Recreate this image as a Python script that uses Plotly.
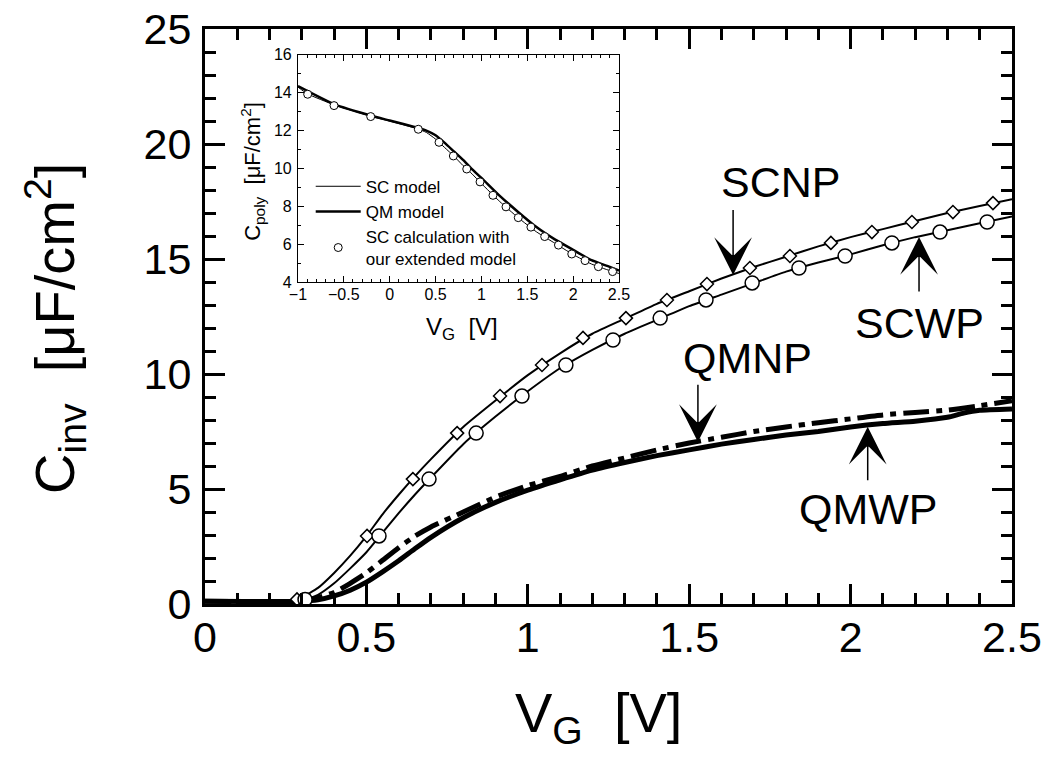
import plotly.graph_objects as go

# ---------------- main plot data ----------------
scnp_x = [0, 0.25, 0.3, 0.35, 0.4, 0.45, 0.5, 0.55, 0.6, 0.65, 0.7, 0.8, 0.9, 1.0, 1.1, 1.2, 1.3, 1.4, 1.5, 1.6, 1.7, 1.8, 1.9, 2.0, 2.1, 2.2, 2.3, 2.4, 2.5]
scnp_y = [0.12, 0.12, 0.3, 0.7, 1.35, 2.1, 2.95, 3.9, 4.75, 5.55, 6.3, 7.7, 8.85, 9.95, 10.9, 11.75, 12.4, 13.05, 13.6, 14.15, 14.65, 15.1, 15.55, 15.95, 16.3, 16.65, 17.0, 17.3, 17.6]
scnp_mx = [0.285, 0.502, 0.644, 0.781, 0.914, 1.044, 1.171, 1.304, 1.431, 1.555, 1.688, 1.812, 1.939, 2.066, 2.19, 2.317, 2.441]
scnp_my = [0.2, 2.96, 5.43, 7.43, 9.04, 10.39, 11.57, 12.43, 13.22, 13.91, 14.61, 15.13, 15.7, 16.17, 16.61, 17.04, 17.43]

scwp_x = [0, 0.3, 0.35, 0.4, 0.45, 0.5, 0.55, 0.6, 0.65, 0.7, 0.8, 0.9, 1.0, 1.1, 1.2, 1.3, 1.4, 1.5, 1.6, 1.7, 1.8, 1.9, 2.0, 2.1, 2.2, 2.3, 2.4, 2.5]
scwp_y = [0.12, 0.15, 0.4, 0.9, 1.55, 2.25, 3.1, 3.95, 4.75, 5.5, 6.95, 8.15, 9.25, 10.25, 11.05, 11.75, 12.35, 12.95, 13.45, 13.95, 14.45, 14.85, 15.2, 15.6, 15.95, 16.25, 16.55, 16.85]
scwp_mx = [0.31, 0.539, 0.694, 0.84, 0.982, 1.118, 1.264, 1.41, 1.552, 1.695, 1.84, 1.983, 2.128, 2.277, 2.423]
scwp_my = [0.2, 2.96, 5.43, 7.43, 9.04, 10.39, 11.48, 12.43, 13.22, 13.96, 14.61, 15.13, 15.7, 16.17, 16.61]

qmnp_x = [0, 0.28, 0.33, 0.4, 0.45, 0.5, 0.55, 0.6, 0.65, 0.7, 0.8, 0.9, 1.0, 1.1, 1.2, 1.3, 1.4, 1.5, 1.6, 1.7, 1.8, 1.9, 2.0, 2.1, 2.2, 2.3, 2.4, 2.5]
qmnp_y = [0.12, 0.12, 0.2, 0.5, 0.9, 1.35, 1.9, 2.45, 2.95, 3.35, 4.0, 4.65, 5.15, 5.55, 6.0, 6.35, 6.7, 7.0, 7.25, 7.5, 7.7, 7.88, 8.05, 8.22, 8.33, 8.43, 8.62, 8.84]

qmwp_x = [0, 0.3, 0.35, 0.4, 0.45, 0.5, 0.55, 0.6, 0.65, 0.7, 0.8, 0.9, 1.0, 1.1, 1.2, 1.3, 1.4, 1.5, 1.6, 1.7, 1.8, 1.9, 2.0, 2.1, 2.2, 2.3, 2.35, 2.4, 2.5]
qmwp_y = [0.12, 0.12, 0.18, 0.35, 0.6, 0.95, 1.4, 1.88, 2.4, 2.9, 3.75, 4.42, 4.95, 5.4, 5.82, 6.15, 6.45, 6.7, 6.95, 7.15, 7.35, 7.5, 7.7, 7.85, 7.95, 8.12, 8.3, 8.42, 8.48]

x_ticks = [0, 0.5, 1, 1.5, 2, 2.5]
y_ticks = [0, 5, 10, 15, 20, 25]

# labels: text, text position (x, y), arrow tail (x, y), arrow tip (x, y)
label_names = ["SCNP", "SCWP", "QMNP", "QMWP"]
label_pos_x = [1.784, 2.212, 1.682, 2.054]
label_pos_y = [18.36, 12.2, 10.7, 4.13]
arrow_tail_x = [1.636, 2.212, 1.527, 2.053]
arrow_tail_y = [17.2, 13.52, 9.6, 5.32]
arrow_tip_x = [1.636, 2.212, 1.527, 2.053]
arrow_tip_y = [14.3, 15.96, 7.04, 7.71]

# ---------------- inset data ----------------
in_sc_x = [-1, -0.9, -0.6, -0.2, 0, 0.3, 0.4, 0.5, 0.6, 0.7, 0.8, 0.9, 1.0, 1.2, 1.4, 1.6, 1.8, 2.0, 2.2, 2.4, 2.5]
in_sc_y = [14.3, 13.95, 13.35, 12.75, 12.5, 12.1, 11.9, 11.55, 11.1, 10.65, 10.15, 9.7, 9.2, 8.25, 7.4, 6.65, 6.05, 5.45, 4.95, 4.6, 4.45]
in_qm_x = [-1, -0.6, -0.2, 0, 0.3, 0.4, 0.5, 0.6, 0.7, 0.8, 0.9, 1.0, 1.2, 1.4, 1.6, 1.8, 2.0, 2.2, 2.4, 2.5]
in_qm_y = [14.35, 13.38, 12.78, 12.53, 12.15, 12.0, 11.75, 11.35, 10.9, 10.45, 9.95, 9.5, 8.55, 7.7, 6.9, 6.25, 5.7, 5.15, 4.8, 4.6]
in_circ_x = [-0.894, -0.607, -0.207, 0.312, 0.538, 0.694, 0.84, 0.985, 1.126, 1.268, 1.402, 1.54, 1.69, 1.84, 1.985, 2.13, 2.275, 2.43]
in_circ_y = [13.92, 13.32, 12.74, 12.07, 11.38, 10.66, 9.97, 9.29, 8.58, 7.97, 7.40, 6.9, 6.4, 5.95, 5.48, 5.13, 4.81, 4.55]
in_x_ticks = [-1, -0.5, 0, 0.5, 1, 1.5, 2, 2.5]
in_y_ticks = [4, 6, 8, 10, 12, 14, 16]

FONT = "Arial, Liberation Sans, sans-serif"
BLACK = "#000000"

fig = go.Figure()

# main curves
fig.add_trace(go.Scatter(x=scnp_x, y=scnp_y, mode="lines", line=dict(color=BLACK, width=2, shape="spline", smoothing=0.5), showlegend=False))
fig.add_trace(go.Scatter(x=scwp_x, y=scwp_y, mode="lines", line=dict(color=BLACK, width=2, shape="spline", smoothing=0.5), showlegend=False))
fig.add_trace(go.Scatter(x=qmwp_x, y=qmwp_y, mode="lines", line=dict(color=BLACK, width=5, shape="spline", smoothing=0.5), showlegend=False))
fig.add_trace(go.Scatter(x=qmnp_x, y=qmnp_y, mode="lines", line=dict(color=BLACK, width=5, dash="26px,7px,6px,7px", shape="spline", smoothing=0.5), showlegend=False))
fig.add_trace(go.Scatter(x=scnp_mx, y=scnp_my, mode="markers", marker=dict(symbol="diamond", size=10, color="white", line=dict(color=BLACK, width=1.5)), showlegend=False))
fig.add_trace(go.Scatter(x=scwp_mx, y=scwp_my, mode="markers", marker=dict(symbol="circle", size=14, color="white", line=dict(color=BLACK, width=1.5)), showlegend=False))

# inset curves
fig.add_trace(go.Scatter(x=in_sc_x, y=in_sc_y, mode="lines", name="SC model", line=dict(color=BLACK, width=1, shape="spline", smoothing=0.5), xaxis="x2", yaxis="y2"))
fig.add_trace(go.Scatter(x=in_qm_x, y=in_qm_y, mode="lines", name="QM model", line=dict(color=BLACK, width=2.5, shape="spline", smoothing=0.5), xaxis="x2", yaxis="y2"))
fig.add_trace(go.Scatter(x=in_circ_x, y=in_circ_y, mode="markers", name="SC calculation with<br>our extended model",
                         marker=dict(symbol="circle", size=8, color="white", line=dict(color=BLACK, width=1)), xaxis="x2", yaxis="y2"))

annotations = []
for name, lx, ly, tx, ty, hx, hy in zip(label_names, label_pos_x, label_pos_y, arrow_tail_x, arrow_tail_y, arrow_tip_x, arrow_tip_y):
    annotations.append(dict(x=lx, y=ly, xref="x", yref="y", text=name, showarrow=False,
                            font=dict(family=FONT, size=43, color=BLACK), xanchor="center", yanchor="middle"))
    annotations.append(dict(x=hx, y=hy, xref="x", yref="y", ax=tx, ay=ty, axref="x", ayref="y", text="",
                            showarrow=True, arrowhead=3, arrowsize=4.2, arrowwidth=1.5, arrowcolor=BLACK, standoff=0))

# axis titles
annotations.append(dict(x=0.488, y=-0.195, xref="paper", yref="paper", text="V<sub>G</sub>\u00a0\u00a0[V]", showarrow=False,
                        font=dict(family=FONT, size=56, color=BLACK), xanchor="center", yanchor="middle"))
annotations.append(dict(x=-0.186, y=0.48, xref="paper", yref="paper", text="C<sub>inv</sub>\u00a0\u00a0[\u03bcF/cm<sup>2</sup>]", showarrow=False,
                        textangle=-90, font=dict(family=FONT, size=56, color=BLACK), xanchor="center", yanchor="middle"))
annotations.append(dict(x=0.318, y=0.48, xref="paper", yref="paper", text="V<sub>G</sub>\u00a0\u00a0[V]", showarrow=False,
                        font=dict(family=FONT, size=24, color=BLACK), xanchor="center", yanchor="middle"))
annotations.append(dict(x=0.058, y=0.753, xref="paper", yref="paper", text="C<sub>poly</sub>\u00a0\u00a0[\u03bcF/cm<sup>2</sup>]", showarrow=False,
                        textangle=-90, font=dict(family=FONT, size=22, color=BLACK), xanchor="center", yanchor="middle"))

main_axis = dict(showline=True, linecolor=BLACK, linewidth=3, mirror="ticks", ticks="inside", tickwidth=3,
                 tickcolor=BLACK, showgrid=False, zeroline=False, ticklabeloverflow="allow", automargin=False,
                 tickfont=dict(family=FONT, size=43, color=BLACK))
inset_axis = dict(showline=True, linecolor=BLACK, linewidth=1, mirror="ticks", ticks="inside", tickwidth=1, ticklen=6,
                  tickcolor=BLACK, showgrid=False, zeroline=False, ticklabeloverflow="allow", automargin=False,
                  tickfont=dict(family=FONT, size=16, color=BLACK))

fig.update_layout(
    width=1055, height=774, autosize=False,
    margin=dict(l=205, r=43, t=29, b=170, autoexpand=False),
    paper_bgcolor="white", plot_bgcolor="white",
    font=dict(family=FONT, color=BLACK),
    xaxis=dict(main_axis, range=[0, 2.5], tickvals=x_ticks, ticklen=20, ticklabelstandoff=-7,
               minor=dict(dtick=0.1, ticks="inside", ticklen=11, tickwidth=3, tickcolor=BLACK)),
    yaxis=dict(main_axis, range=[0, 25], tickvals=y_ticks, ticklen=20, ticklabelstandoff=2,
               minor=dict(dtick=1, ticks="inside", ticklen=11, tickwidth=3, tickcolor=BLACK)),
    xaxis2=dict(inset_axis, domain=[0.1152, 0.513], anchor="y2", range=[-1, 2.5], tickvals=in_x_ticks, ticklabelstandoff=-2,
                minor=dict(dtick=0.1, ticks="inside", ticklen=3, tickwidth=1, tickcolor=BLACK)),
    yaxis2=dict(inset_axis, domain=[0.56, 0.955], anchor="x2", range=[4, 16], tickvals=in_y_ticks, ticklabelstandoff=2,
                minor=dict(dtick=1, ticks="inside", ticklen=3, tickwidth=1, tickcolor=BLACK)),
    showlegend=True,
    legend=dict(x=0.131, y=0.757, xanchor="left", yanchor="top", bgcolor="rgba(0,0,0,0)",
                font=dict(family=FONT, size=17, color=BLACK), tracegroupgap=0, itemwidth=45),
    annotations=annotations,
)

# remove the default 8px page margin so the figure fills the window exactly
fig.write_html("out.html", config={"displayModeBar": False},
               post_script="document.body.style.margin='0px';")
